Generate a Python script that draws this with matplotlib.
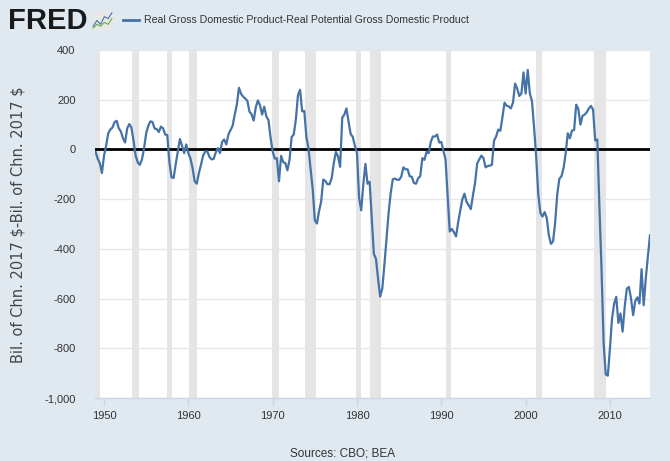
import numpy as np
import matplotlib
matplotlib.use("Agg")
import matplotlib.pyplot as plt

# quarterly output gap, 1949Q1 - 2014Q4 (billions of chained 2017 dollars)
start_year = 1949
gap = [
    -10, -37, -55, -95, -25, 15, 65, 80, 88, 110, 115, 85, 72, 45, 28, 85,
    102, 88, 35, -25, -52, -62, -40, 5, 65, 95, 113, 110, 84, 82, 70, 92,
    85, 60, 58, -50, -112, -115, -60, -10, 42, 15, -15, 20, -15, -37, -75, -128,
    -138, -95, -62, -25, -8, -8, -30, -40, -38, -12, 5, -15, 30, 40, 20, 60,
    78, 95, 140, 180, 248, 224, 212, 205, 195, 152, 141, 116, 170, 197, 177, 140,
    172, 133, 118, 48, -8, -37, -35, -128, -26, -51, -55, -84, -42, 50, 60, 120,
    218, 240, 153, 155, 50, 5, -80, -160, -285, -298, -248, -210, -121, -127, -140, -140,
    -115, -55, -10, -28, -70, 128, 140, 165, 112, 62, 50, 15, -15, -195, -245, -140,
    -58, -138, -130, -272, -420, -440, -520, -592, -560, -465, -360, -255, -175, -120, -117, -122,
    -122, -110, -72, -80, -80, -108, -110, -135, -138, -116, -108, -35, -42, -10, -15, 30,
    52, 52, 60, 28, 30, -5, -40, -185, -330, -320, -333, -350, -292, -245, -200, -178,
    -212, -225, -240, -185, -135, -57, -40, -25, -35, -72, -67, -65, -62, 35, 52, 80,
    75, 130, 188, 176, 173, 165, 188, 265, 245, 215, 225, 310, 225, 320, 225, 195,
    90, -30, -180, -255, -270, -252, -275, -345, -380, -370, -295, -180, -118, -108, -75, -15,
    65, 45, 76, 78, 180, 163, 100, 135, 140, 150, 165, 175, 160, 36, 40, -230,
    -480, -780, -905, -910, -800, -680, -620, -593, -698, -660, -733, -633, -560, -553, -600, -667,
    -610, -595, -620, -482, -627, -520, -430, -345,
]

# recession periods (decimal years)
rec_start = [1948.9, 1953.35, 1957.5, 1960.1, 1969.9, 1973.8, 1979.9, 1981.5, 1990.5, 2001.2, 2008.1]
rec_end = [1949.55, 1954.2, 1958.1, 1961.0, 1970.8, 1975.1, 1980.5, 1982.8, 1991.2, 2001.9, 2009.5]

yticks = [400, 200, 0, -200, -400, -600, -800, -1000]
xticks = [1950, 1960, 1970, 1980, 1990, 2000, 2010]

series_name = "Real Gross Domestic Product-Real Potential Gross Domestic Product"
y_label = "Bil. of Chn. 2017 $-Bil. of Chn. 2017 $"
source = "Sources: CBO; BEA"

bg = "#e1e9f0"
line_col = "#4572a7"
txt_col = "#333333"

plt.rcParams["font.family"] = ["Liberation Sans", "DejaVu Sans"]

years = start_year + np.arange(len(gap)) / 4.0

fig = plt.figure(figsize=(6.7, 4.61), dpi=100, facecolor=bg)
ax = fig.add_axes([95 / 670, 1 - 398 / 461, 555 / 670, 348 / 461])
ax.set_facecolor("white")

for s, e in zip(rec_start, rec_end):
    ax.axvspan(s, e, color="#e5e5e5", lw=0, zorder=1)

for t in yticks:
    ax.axhline(t, color="#e6e6e6", lw=1, zorder=0.5)
ax.axhline(0, color="black", lw=2, zorder=2)

ax.plot(years, gap, color=line_col, lw=1.6, zorder=3, solid_joinstyle="round")

ax.set_xlim(1948.93, years[-1])
ax.set_ylim(-1000, 400)
ax.set_yticks(yticks)
ax.set_yticklabels([f"{v:,}" for v in yticks])
ax.set_xticks(xticks)

for side in ["top", "right", "left"]:
    ax.spines[side].set_visible(False)
ax.spines["bottom"].set_color("#ccd6eb")
ax.spines["bottom"].set_linewidth(1)
ax.tick_params(axis="y", length=0, pad=14, labelsize=8, labelcolor=txt_col)
ax.tick_params(axis="x", length=6, width=1, color="#ccd6eb", pad=3,
               labelsize=8, labelcolor=txt_col)

fig.text(18 / 670, 1 - 225 / 461, y_label, rotation=90, ha="center", va="center",
         fontsize=10.5, color="#444444", family="DejaVu Sans", parse_math=False)

# header: FRED logo + legend
fig.text(8 / 670, 1 - 21 / 461, "FRED", fontsize=21, fontweight="bold",
         color="#1a1a1a", ha="left", va="center")
icon = fig.add_axes([92 / 670, 1 - 30 / 461, 21 / 670, 19 / 461])
icon.set_facecolor("#e8e8e8")
icon_blue = [2, 5, 3, 7, 6, 9]
icon_green = [1, 3, 2, 4, 3, 6]
icon.plot(icon_blue, color="#4572a7", lw=0.8)
icon.plot(icon_green, color="#6aa84f", lw=0.8)
icon.set_xlim(-0.3, 5.3)
icon.set_ylim(0, 10)
icon.set_xticks([])
icon.set_yticks([])
for sp in icon.spines.values():
    sp.set_visible(False)

fig.add_artist(plt.Line2D([123 / 670, 139 / 670], [1 - 20 / 461, 1 - 20 / 461],
                          color=line_col, lw=2))
fig.text(144 / 670, 1 - 20 / 461, series_name, fontsize=7.6, color=txt_col,
         ha="left", va="center")

fig.text(343 / 670, 1 - 453 / 461, source, fontsize=8.5, color=txt_col,
         ha="center", va="center")

fig.savefig("out.png", dpi=100, facecolor=bg)
